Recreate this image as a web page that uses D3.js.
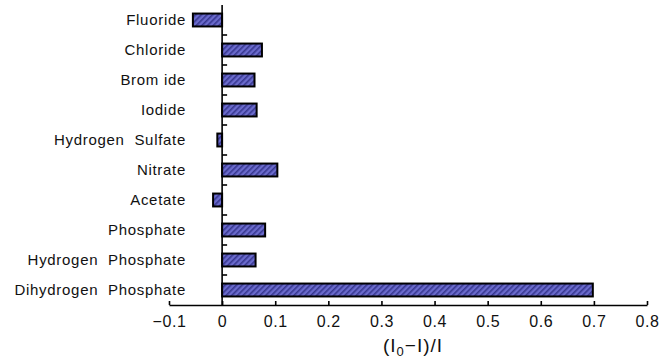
<!DOCTYPE html>
<html><head><meta charset="utf-8">
<script src="https://cdn.jsdelivr.net/npm/d3@7"></script>
<style>body{margin:0;background:#fff}svg{display:block}</style>
</head><body>
<svg id="c" width="662" height="358"></svg>
<script>
const categories = ["Fluoride","Chloride","Brom ide","Iodide","Hydrogen  Sulfate","Nitrate","Acetate","Phosphate","Hydrogen  Phosphate","Dihydrogen  Phosphate"];
const values = [-0.055, 0.075, 0.061, 0.065, -0.009, 0.104, -0.017, 0.081, 0.063, 0.698];
const xTicks = [-0.1, 0, 0.1, 0.2, 0.3, 0.4, 0.5, 0.6, 0.7, 0.8];
const xTickLabels = ["\u22120.1","0","0.1","0.2","0.3","0.4","0.5","0.6","0.7","0.8"];

const svg = d3.select("#c");
const x = d3.scaleLinear().domain([-0.1, 0.8]).range([169, 647]);
const y = d3.scaleBand().domain(categories).range([5, 305]).paddingInner(0.57).paddingOuter(0.285);
const yb = d3.scaleBand().domain(categories).range([5, 305]);

const defs = svg.append("defs");
const pat = defs.append("pattern").attr("id","hatch").attr("patternUnits","userSpaceOnUse")
  .attr("width",4).attr("height",4).attr("patternTransform","rotate(45)");
pat.append("rect").attr("width",4).attr("height",4).attr("fill","#6b6bcc");
pat.append("rect").attr("width",1.6).attr("height",4).attr("fill","#383890");

svg.append("g").selectAll("rect").data(values).join("rect")
  .attr("x", d => x(Math.min(0,d)))
  .attr("width", d => Math.abs(x(d)-x(0)))
  .attr("y", (d,i) => y(categories[i]))
  .attr("height", y.bandwidth())
  .attr("fill","url(#hatch)")
  .attr("stroke","#000").attr("stroke-width",2);

// y axis
const ya = svg.append("g").attr("transform",`translate(${x(0)},0)`);
ya.append("line").attr("y1",5).attr("y2",305).attr("stroke","#000").attr("stroke-width",1.6);
ya.selectAll(".t").data(categories.slice(1)).join("line")
  .attr("x1",0).attr("x2",5).attr("y1",d=>yb(d)).attr("y2",d=>yb(d))
  .attr("stroke","#000").attr("stroke-width",1.6);

svg.append("g").selectAll("text").data(categories).join("text")
  .attr("x",186).attr("y",d=>yb(d)+yb.bandwidth()/2)
  .attr("dy","0.35em").attr("text-anchor","end")
  .attr("font-family","Liberation Sans, Arial, sans-serif").attr("font-size",15)
  .attr("letter-spacing","0.7px").attr("fill","#111")
  .style("white-space","pre")
  .text(d=>d);

// x axis
const xa = d3.axisBottom(x).tickValues(xTicks).tickSize(0).tickFormat((d,i)=>xTickLabels[i]);
const gx = svg.append("g").attr("transform","translate(0,305)").call(xa);
gx.select(".domain").attr("stroke","#000").attr("stroke-width",1.6);
gx.selectAll(".tick line").remove();
gx.selectAll(".tick").append("line").attr("y1",0).attr("y2",-4).attr("stroke","#000").attr("stroke-width",1.6);
gx.selectAll(".tick text").attr("y",11).attr("font-family","Liberation Sans, Arial, sans-serif")
  .attr("font-size",16).attr("fill","#111").attr("letter-spacing","0.6px");

const title = svg.append("text").attr("x",413).attr("y",352).attr("text-anchor","middle")
  .attr("font-family","Liberation Sans, Arial, sans-serif").attr("font-size",19).attr("fill","#111")
  .attr("letter-spacing","1px");
title.append("tspan").text("(I");
title.append("tspan").attr("font-size",13).attr("dy",4).text("0");
title.append("tspan").attr("dy",-4).text("\u2212I)/I");
</script>
</body></html>
